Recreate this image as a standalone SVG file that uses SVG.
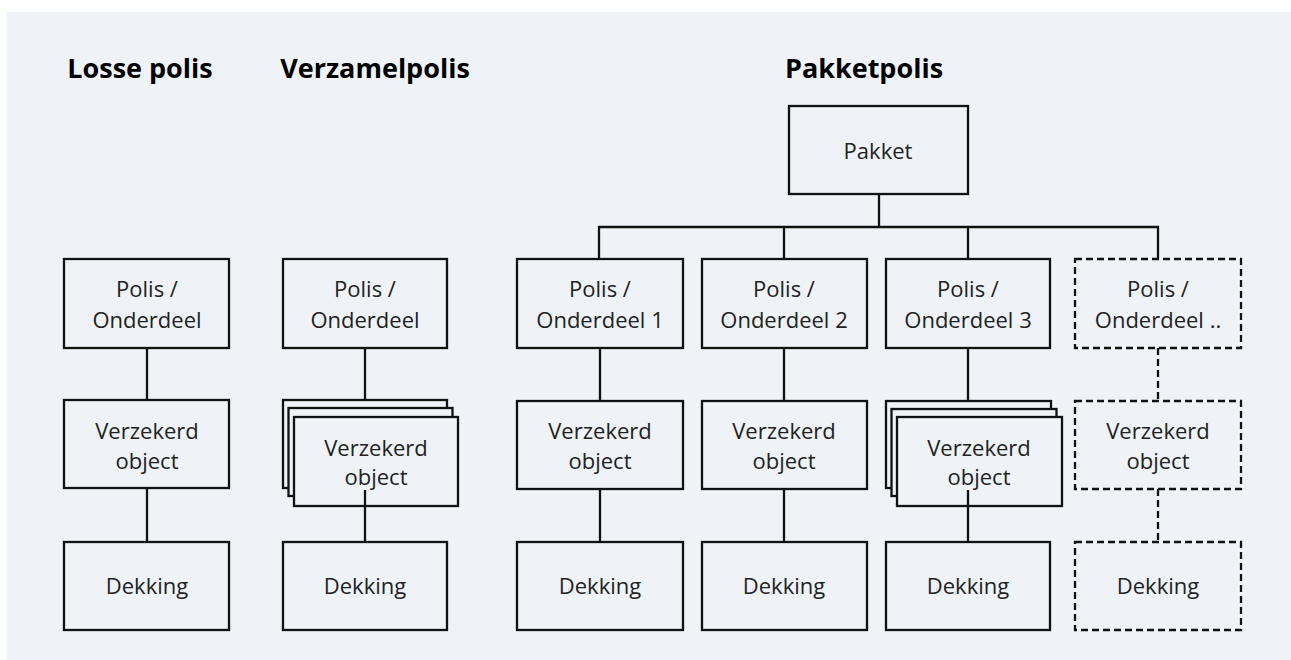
<svg xmlns="http://www.w3.org/2000/svg" width="1291" height="660" viewBox="0 0 1291 660">
<style>
.bg{fill:#ffffff}
.panel{fill:#eff3f7}
.box{fill:#eff3f7;stroke:#111;stroke-width:2.3}
.dash{fill:none;stroke:#111;stroke-width:2.3;stroke-dasharray:7 4}
.ln{fill:none;stroke:#111;stroke-width:2.3}
.lnd{fill:none;stroke:#111;stroke-width:2.3;stroke-dasharray:7 4}
.t{font-family:"Open Sans","Liberation Sans",sans-serif;font-size:22px;fill:#222;text-anchor:middle}
.h{font-family:"Open Sans","Liberation Sans",sans-serif;font-size:27px;font-weight:bold;fill:#000;text-anchor:middle}
</style>
<rect class="bg" x="0" y="0" width="1291" height="660"/>
<rect class="panel" x="7" y="12" width="1284" height="648"/>
<text class="h" x="140" y="78">Losse polis</text>
<text class="h" x="375" y="78">Verzamelpolis</text>
<text class="h" x="864" y="78">Pakketpolis</text>
<g id="connectors">
<line class="ln" x1="147" y1="348" x2="147" y2="400"/>
<line class="ln" x1="147" y1="488" x2="147" y2="542"/>
<line class="ln" x1="365" y1="348" x2="365" y2="400"/>
<line class="ln" x1="365" y1="490" x2="365" y2="542"/>
<polyline class="ln" points="879,194 879,227"/>
<polyline class="ln" points="599,259 599,227 1158,227 1158,259"/>
<line class="ln" x1="784" y1="227" x2="784" y2="259"/>
<line class="ln" x1="968" y1="227" x2="968" y2="259"/>
<line class="ln" x1="600" y1="348" x2="600" y2="401"/>
<line class="ln" x1="600" y1="489" x2="600" y2="542"/>
<line class="ln" x1="784" y1="348" x2="784" y2="401"/>
<line class="ln" x1="784" y1="489" x2="784" y2="542"/>
<line class="ln" x1="968" y1="348" x2="968" y2="401"/>
<line class="lnd" x1="1158" y1="348" x2="1158" y2="401"/>
<line class="lnd" x1="1158" y1="489" x2="1158" y2="542"/>
</g>
<g id="losse-polis">
<rect class="box" x="64" y="259" width="165" height="89"/>
<text class="t" x="147" y="297">Polis /</text>
<text class="t" x="147" y="328">Onderdeel</text>
</g>
<g id="losse-object">
<rect class="box" x="64" y="400" width="165" height="88"/>
<text class="t" x="147" y="439">Verzekerd</text>
<text class="t" x="147" y="469">object</text>
</g>
<g id="losse-dekking">
<rect class="box" x="64" y="542" width="165" height="88"/>
<text class="t" x="147" y="594">Dekking</text>
</g>
<g id="verzamel-polis">
<rect class="box" x="283" y="259" width="164" height="89"/>
<text class="t" x="365" y="297">Polis /</text>
<text class="t" x="365" y="328">Onderdeel</text>
</g>
<g id="verzamel-object">
<rect class="box" x="283" y="400" width="164" height="88"/>
<rect class="box" x="288.5" y="408" width="164" height="88"/>
<rect class="box" x="294" y="417" width="164" height="89"/>
<text class="t" x="376" y="456">Verzekerd</text>
<text class="t" x="376" y="485">object</text>
<line class="ln" x1="365" y1="490" x2="365" y2="506"/>
</g>
<g id="verzamel-dekking">
<rect class="box" x="283" y="542" width="164" height="88"/>
<text class="t" x="365" y="594">Dekking</text>
</g>
<g id="pakket">
<rect class="box" x="789" y="106" width="179" height="88"/>
<text class="t" x="878" y="159">Pakket</text>
</g>
<g id="pakket-polis-1">
<rect class="box" x="517" y="259" width="166" height="89"/>
<text class="t" x="600" y="297">Polis /</text>
<text class="t" x="600" y="328">Onderdeel 1</text>
</g>
<g id="pakket-object-1">
<rect class="box" x="517" y="401" width="166" height="88"/>
<text class="t" x="600" y="439">Verzekerd</text>
<text class="t" x="600" y="469">object</text>
</g>
<g id="pakket-dekking-1">
<rect class="box" x="517" y="542" width="166" height="88"/>
<text class="t" x="600" y="594">Dekking</text>
</g>
<g id="pakket-polis-2">
<rect class="box" x="702" y="259" width="165" height="89"/>
<text class="t" x="784" y="297">Polis /</text>
<text class="t" x="784" y="328">Onderdeel 2</text>
</g>
<g id="pakket-object-2">
<rect class="box" x="702" y="401" width="165" height="88"/>
<text class="t" x="784" y="439">Verzekerd</text>
<text class="t" x="784" y="469">object</text>
</g>
<g id="pakket-dekking-2">
<rect class="box" x="702" y="542" width="165" height="88"/>
<text class="t" x="784" y="594">Dekking</text>
</g>
<g id="pakket-polis-3">
<rect class="box" x="886" y="259" width="164" height="89"/>
<text class="t" x="968" y="297">Polis /</text>
<text class="t" x="968" y="328">Onderdeel 3</text>
</g>
<g id="pakket-object-3">
<rect class="box" x="886" y="401" width="165" height="87"/>
<rect class="box" x="891.5" y="409" width="165" height="87"/>
<rect class="box" x="897" y="417" width="165" height="89"/>
<text class="t" x="979" y="456">Verzekerd</text>
<text class="t" x="979" y="485">object</text>
<line class="ln" x1="968" y1="490" x2="968" y2="542"/>
</g>
<g id="pakket-dekking-3">
<rect class="box" x="886" y="542" width="164" height="88"/>
<text class="t" x="968" y="594">Dekking</text>
</g>
<g id="pakket-polis-n">
<rect class="dash" x="1075" y="259" width="166" height="89"/>
<text class="t" x="1158" y="297">Polis /</text>
<text class="t" x="1158" y="328">Onderdeel ..</text>
</g>
<g id="pakket-object-n">
<rect class="dash" x="1075" y="401" width="166" height="88"/>
<text class="t" x="1158" y="439">Verzekerd</text>
<text class="t" x="1158" y="469">object</text>
</g>
<g id="pakket-dekking-n">
<rect class="dash" x="1075" y="542" width="166" height="88"/>
<text class="t" x="1158" y="594">Dekking</text>
</g>
</svg>
